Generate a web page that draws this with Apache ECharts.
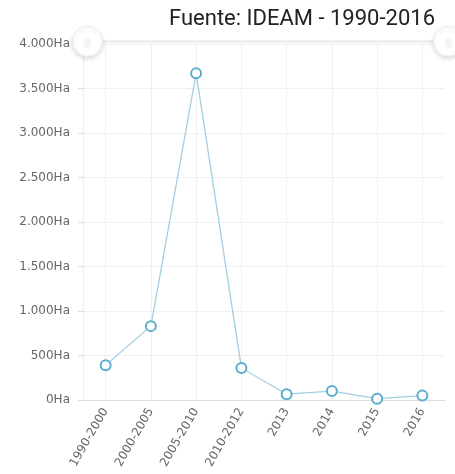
<!DOCTYPE html>
<html><head><meta charset="utf-8">
<script src="https://cdn.jsdelivr.net/npm/echarts@6/dist/echarts.min.js"></script>
<style>html,body{margin:0;padding:0;background:#fff}#c{width:455px;height:474px}</style>
</head><body><div id="c"></div>
<script>
const categories = ['1990-2000','2000-2005','2005-2010','2010-2012','2013','2014','2015','2016'];
const values = [390, 830, 3670, 360, 65, 100, 15, 50];
const titleText = 'Fuente: IDEAM - 1990-2016';
const yMax = 4000, yInterval = 500;

function fmt(v){ return String(v).replace(/\B(?=(\d{3})+(?!\d))/g,'.') + 'Ha'; }

const chart = echarts.init(document.getElementById('c'));
chart.setOption({
  animation:false,
  title:{text:titleText, right:15, top:3, textStyle:{fontFamily:'Roboto', fontSize:22, fontWeight:'normal', color:'#222'}},
  grid:{left:83, right:10, top:44, bottom:74},
  dataZoom:[{type:'slider', xAxisIndex:0, top:40, height:2, left:85, right:7,
    showDetail:false, brushSelect:false, showDataShadow:false,
    backgroundColor:'#e8e8e8', borderColor:'transparent', fillerColor:'rgba(0,0,0,0)',
    dataBackground:{lineStyle:{opacity:0}, areaStyle:{opacity:0}},
    moveHandleSize:0,
    handleIcon:'path://M512 0A512 512 0 1 0 512 1024A512 512 0 1 0 512 0ZM470 380L470 640M554 380L554 640',
    handleSize:30,
    handleStyle:{color:'#fff', borderColor:'#ececec', borderWidth:1, shadowBlur:5, shadowOffsetY:2, shadowColor:'rgba(0,0,0,0.15)'}
  }],
  xAxis:{type:'category', data:categories, boundaryGap:true,
    axisLine:{lineStyle:{color:'#ddd'}}, axisTick:{show:false},
    axisLabel:{rotate:60, color:'#666', fontSize:12, fontFamily:'DejaVu Sans', margin:9},
    splitLine:{show:true, alignWithLabel:true, lineStyle:{color:'#f0f0f0'}}},
  yAxis:{type:'value', min:0, max:yMax, interval:yInterval,
    axisLine:{show:true, lineStyle:{color:'#eee'}}, axisTick:{show:true, length:5, lineStyle:{color:'#ddd'}},
    axisLabel:{formatter:fmt, color:'#666', fontSize:12, fontFamily:'DejaVu Sans', margin:13},
    splitLine:{lineStyle:{color:'#f0f0f0'}}},
  series:[{type:'line', data:values, symbol:'emptyCircle', symbolSize:10,
    lineStyle:{color:'#a2d0e2', width:1.3},
    itemStyle:{color:'#5aaecc', borderColor:'#6db7d3', borderWidth:2.8}}]
});
</script></body></html>
